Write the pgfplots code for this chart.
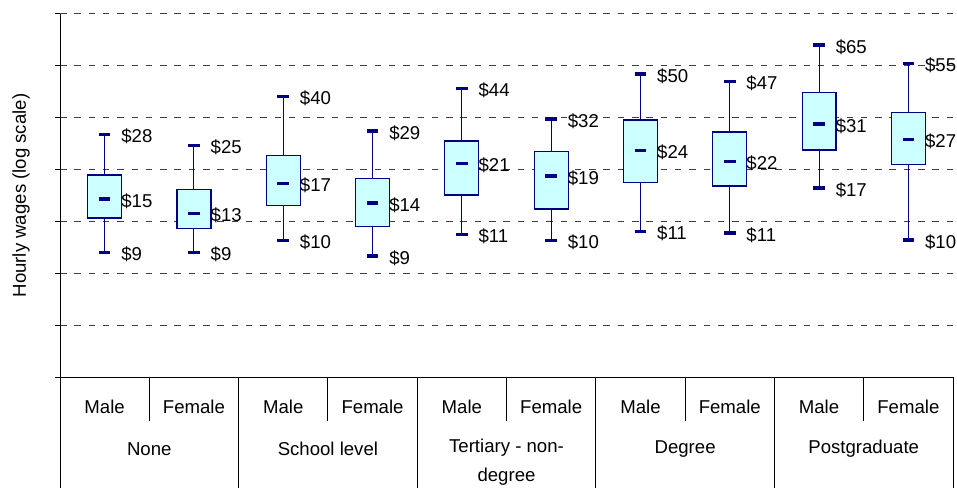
\documentclass[border=0pt]{standalone}
\usepackage{pgfplots}
\pgfplotsset{compat=1.18}
\usepgfplotslibrary{statistics}
\usepackage{fontspec}
\setmainfont{Liberation Sans}
\definecolor{navyb}{HTML}{000080}
\definecolor{boxfill}{HTML}{CCFFFF}
\newcommand{\lbl}{\fontsize{18.6}{22}\selectfont}
\begin{document}
\begin{tikzpicture}
\useasboundingbox (0pt,0pt) rectangle (957pt,488pt);
\begin{axis}[
  at={(60pt,111pt)}, anchor=south west,
  scale only axis, width=893pt, height=363pt,
  xmin=-0.5, xmax=9.5, ymin=1, ymax=4.5,
  clip=false,
  axis lines=left, axis line style={-, black, line width=1pt},
  xtick=\empty,
  ytick={1,1.5,2,2.5,3,3.5,4,4.5}, yticklabels={},
  tick align=outside, major tick length=5pt,
  tick style={black, line width=1pt},
  ymajorgrids,
  major grid style={dash pattern=on 6.5pt off 7.8pt, black!75, line width=1pt},
  ylabel={Hourly wages (log scale)},
  ylabel style={at={(axis description cs:-0.0437,0.5)}, anchor=center, font=\lbl},
  boxplot/draw direction=y,
  boxplot/box extend=0.38,
  boxplot/every box/.style={draw=navyb, fill=boxfill, line width=1.2pt},
  boxplot/draw/median/.code={%
    \draw[navyb, line width=3.5pt] (boxplot box cs:\pgfplotsboxplotvalue{median},0.33) -- (boxplot box cs:\pgfplotsboxplotvalue{median},0.67);},
  boxplot/draw/lower whisker/.code={%
    \draw[navyb, line width=1pt] (boxplot cs:\pgfplotsboxplotvalue{lower quartile}) -- (boxplot cs:\pgfplotsboxplotvalue{lower whisker});
    \draw[navyb, line width=3.5pt] (boxplot box cs:\pgfplotsboxplotvalue{lower whisker},0.33) -- (boxplot box cs:\pgfplotsboxplotvalue{lower whisker},0.67);},
  boxplot/draw/upper whisker/.code={%
    \draw[navyb, line width=1pt] (boxplot cs:\pgfplotsboxplotvalue{upper quartile}) -- (boxplot cs:\pgfplotsboxplotvalue{upper whisker});
    \draw[navyb, line width=3.5pt] (boxplot box cs:\pgfplotsboxplotvalue{upper whisker},0.33) -- (boxplot box cs:\pgfplotsboxplotvalue{upper whisker},0.67);},
]
% values are natural logs of hourly wages
\addplot[boxplot prepared={draw position=0, lower whisker=2.199, lower quartile=2.533, median=2.716, upper quartile=2.948, upper whisker=3.337}] coordinates {};
\addplot[boxplot prepared={draw position=1, lower whisker=2.199, lower quartile=2.430, median=2.575, upper quartile=2.806, upper whisker=3.234}] coordinates {};
\addplot[boxplot prepared={draw position=2, lower whisker=2.318, lower quartile=2.656, median=2.868, upper quartile=3.134, upper whisker=3.703}] coordinates {};
\addplot[boxplot prepared={draw position=3, lower whisker=2.167, lower quartile=2.449, median=2.678, upper quartile=2.912, upper whisker=3.372}] coordinates {};
\addplot[boxplot prepared={draw position=4, lower whisker=2.376, lower quartile=2.755, median=3.057, upper quartile=3.276, upper whisker=3.784}] coordinates {};
\addplot[boxplot prepared={draw position=5, lower whisker=2.318, lower quartile=2.620, median=2.938, upper quartile=3.176, upper whisker=3.488}] coordinates {};
\addplot[boxplot prepared={draw position=6, lower whisker=2.405, lower quartile=2.878, median=3.186, upper quartile=3.478, upper whisker=3.922}] coordinates {};
\addplot[boxplot prepared={draw position=7, lower whisker=2.389, lower quartile=2.842, median=3.080, upper quartile=3.363, upper whisker=3.851}] coordinates {};
\addplot[boxplot prepared={draw position=8, lower whisker=2.823, lower quartile=3.189, median=3.437, upper quartile=3.742, upper whisker=4.199}] coordinates {};
\addplot[boxplot prepared={draw position=9, lower whisker=2.321, lower quartile=3.051, median=3.288, upper quartile=3.553, upper whisker=4.025}] coordinates {};
% value labels
\addplot[only marks, mark=none, point meta=explicit symbolic, nodes near coords,
  every node near coord/.append style={anchor=west, inner sep=0pt, yshift=-2pt, font=\lbl, text=black}]
coordinates {
(0.185,3.337) [\$28] (0.185,2.716) [\$15] (0.185,2.199) [\$9]
(1.185,3.234) [\$25] (1.185,2.575) [\$13] (1.185,2.199) [\$9]
(2.185,3.703) [\$40] (2.185,2.868) [\$17] (2.185,2.318) [\$10]
(3.185,3.372) [\$29] (3.185,2.678) [\$14] (3.185,2.167) [\$9]
(4.185,3.784) [\$44] (4.185,3.057) [\$21] (4.185,2.376) [\$11]
(5.185,3.488) [\$32] (5.185,2.938) [\$19] (5.185,2.318) [\$10]
(6.185,3.922) [\$50] (6.185,3.186) [\$24] (6.185,2.405) [\$11]
(7.185,3.851) [\$47] (7.185,3.080) [\$22] (7.185,2.389) [\$11]
(8.185,4.199) [\$65] (8.185,3.437) [\$31] (8.185,2.823) [\$17]
(9.185,4.025) [\$55] (9.185,3.288) [\$27] (9.185,2.321) [\$10]
};
% category table
\pgfplotsinvokeforeach{-0.5,1.5,3.5,5.5,7.5,9.5}{
  \draw[black, line width=1pt] (axis cs:#1,1) -- ([yshift=-111pt]axis cs:#1,1);
}
\pgfplotsinvokeforeach{0.5,2.5,4.5,6.5,8.5}{
  \draw[black, line width=1pt] (axis cs:#1,1) -- ([yshift=-44pt]axis cs:#1,1);
}
\pgfplotsinvokeforeach{0,2,4,6,8}{
  \node[font=\lbl, anchor=center] at ([yshift=-29.7pt]axis cs:#1,1) {Male};
}
\pgfplotsinvokeforeach{1,3,5,7,9}{
  \node[font=\lbl, anchor=center] at ([yshift=-29.7pt]axis cs:#1,1) {Female};
}
\node[font=\lbl, anchor=center] at ([yshift=-72pt]axis cs:0.5,1) {None};
\node[font=\lbl, anchor=center] at ([yshift=-72pt]axis cs:2.5,1) {School level};
\node[font=\lbl, anchor=center] at ([yshift=-71pt]axis cs:4.5,1) {Tertiary - non-};
\node[font=\lbl, anchor=center] at ([yshift=-99.7pt]axis cs:4.5,1) {degree};
\node[font=\lbl, anchor=center] at ([yshift=-72pt]axis cs:6.5,1) {Degree};
\node[font=\lbl, anchor=center] at ([yshift=-72pt]axis cs:8.5,1) {Postgraduate};
\end{axis}
\end{tikzpicture}
\end{document}
